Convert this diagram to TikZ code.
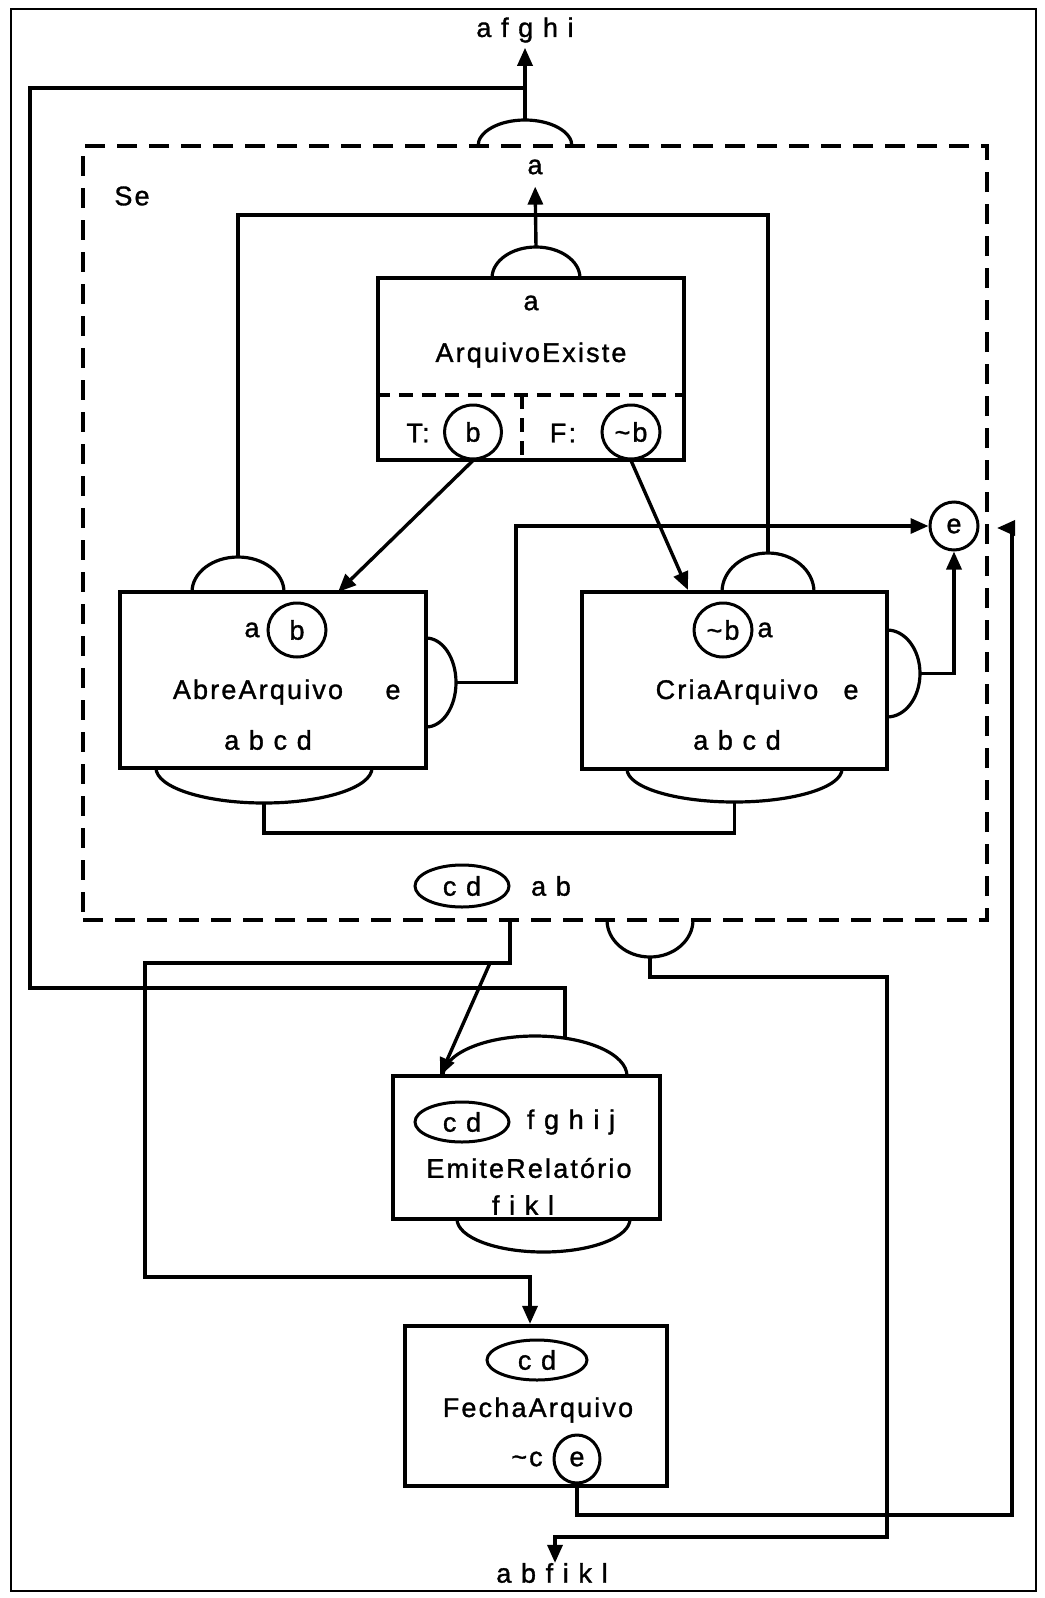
\documentclass[tikz,border=0pt]{standalone}
\usepackage{fontspec}
\setmainfont{Liberation Sans}[LetterSpace=8,FakeBold=1.2]
\usetikzlibrary{arrows.meta,shapes.geometric}
\begin{document}
\begin{tikzpicture}[x=1pt,y=-1pt,
  font=\fontsize{27pt}{32pt}\selectfont,
  lbl/.style={inner sep=0pt},
  proc/.style={draw,line width=4.2pt,rectangle,inner sep=0pt},
  ring/.style={draw,line width=3pt,ellipse,inner sep=0pt},
  wire/.style={line width=3.4pt},
  flow/.style={wire,-{Triangle[length=18pt,width=15pt]}},
  lobe/.style={line width=3.2pt},
  group/.style={draw,line width=4pt,dash pattern=on 20pt off 12pt},
  divider/.style={line width=3.4pt,dash pattern=on 14pt off 9pt},
]
\useasboundingbox (0,0) rectangle (1044,1598);

% page frame
\draw[line width=2.8pt] (11,9) rectangle (1036,1591);

% the "Se" group and the process boxes
\node[group,minimum width=904pt,minimum height=774pt] (se) at (535,533) {};
\node[proc,minimum width=306pt,minimum height=182pt] (existe) at (531,369) {};
\node[proc,minimum width=306pt,minimum height=176pt] (abre) at (273,680) {};
\node[proc,minimum width=305pt,minimum height=177pt] (cria) at (734.5,680.5) {};
\node[proc,minimum width=267pt,minimum height=143pt] (emite) at (526.5,1147.5) {};
\node[proc,minimum width=262pt,minimum height=160pt] (fecha) at (536,1406) {};

% true / false split inside ArquivoExiste
\draw[divider] (existe.west |- 0,395) -- (existe.east |- 0,395);
\draw[divider] (522,395) -- (522,460);

% half-ellipse ports
\draw[lobe] (478,146) arc[start angle=180,end angle=0,x radius=47pt,y radius=26pt];
\draw[lobe] (492,278) arc[start angle=180,end angle=0,x radius=44pt,y radius=31pt];
\draw[lobe] (192,592) arc[start angle=180,end angle=0,x radius=46pt,y radius=35pt];
\draw[lobe] (426,638) arc[start angle=90,end angle=-90,x radius=30pt,y radius=44.5pt];
\draw[lobe] (156,768) arc[start angle=180,end angle=360,x radius=108pt,y radius=35pt];
\draw[lobe] (722,592) arc[start angle=180,end angle=0,x radius=46pt,y radius=39pt];
\draw[lobe] (887,630) arc[start angle=90,end angle=-90,x radius=33pt,y radius=43.5pt];
\draw[lobe] (627,769) arc[start angle=180,end angle=360,x radius=107.5pt,y radius=33pt];
\draw[lobe] (443,1076) arc[start angle=180,end angle=0,x radius=92pt,y radius=40pt];
\draw[lobe] (457,1219) arc[start angle=180,end angle=360,x radius=86.5pt,y radius=33pt];
\draw[lobe] (607,920) arc[start angle=180,end angle=360,x radius=43pt,y radius=37pt];

% port tips
\coordinate (sepeak) at (525,120);
\coordinate (existepeak) at (536,247);
\coordinate (abretop) at (238,557);
\coordinate (abreside) at (456,682.5);
\coordinate (abrebot) at (264,803);
\coordinate (criatop) at (768,553);
\coordinate (criaside) at (920,673.5);
\coordinate (criabot) at (734.5,802);
\coordinate (emitejoin) at (565,1038);
\coordinate (sebot) at (650,957);

% labels
\node[lbl] (outtop) at (525,30) {a f g h i};
\node[lbl] (lbla) at (535,167) {a};
\node[lbl] (selbl) at (132,196) {Se};
\node[lbl] (existein) at (531,303) {a};
\node[lbl] (existename) at (531,355) {ArquivoExiste};
\node[lbl] (tlbl) at (418,433) {T:};
\node[ring,minimum width=57pt,minimum height=54pt] (tb) at (473,432) {b};
\node[lbl] (flbl) at (563,433) {F:};
\node[ring,minimum width=58pt,minimum height=54pt] (fb) at (631,432) {\textasciitilde b};

\node[lbl] (abrea) at (252,630) {a};
\node[ring,minimum width=58pt,minimum height=54pt] (abreb) at (297,630) {b};
\node[lbl] (abrename) at (258,692) {AbreArquivo};
\node[lbl] (abree) at (393,692) {e};
\node[lbl] (abreall) at (268,740) {a b c d};

\node[ring,minimum width=58pt,minimum height=54pt] (criab) at (723,630) {\textasciitilde b};
\node[lbl] (criaa) at (765,630) {a};
\node[lbl] (crianame) at (737,692) {CriaArquivo};
\node[lbl] (criae) at (851,692) {e};
\node[lbl] (criaall) at (737,740) {a b c d};

\node[ring,minimum width=48pt,minimum height=48pt] (eout) at (954,526) {e};
\node[ring,minimum width=94pt,minimum height=42pt] (secd) at (462,886) {c d};
\node[lbl] (seab) at (551,886) {a b};

\node[ring,minimum width=94pt,minimum height=40pt] (emitecd) at (462,1122) {c d};
\node[lbl] (emiteout) at (571,1122) {f g h i j};
\node[lbl] (emitename) at (529,1168) {EmiteRelatório};
\node[lbl] (emitealt) at (523,1205) {f i k l};

\node[ring,minimum width=100pt,minimum height=40pt] (fechacd) at (537,1360) {c d};
\node[lbl] (fechaname) at (538,1410) {FechaArquivo};
\node[lbl] (fechac) at (527,1459) {\textasciitilde c};
\node[ring,minimum width=46pt,minimum height=48pt] (fe) at (577,1459) {e};
\node[lbl] (outbot) at (552,1573) {a b f i k l};

% routing corners
\coordinate (loopA) at (30,988);
\coordinate (loopB) at (30,88);
\coordinate (loopC) at (238,215);
\coordinate (loopD) at (768,215);
\coordinate (stepE) at (516,526);
\coordinate (loopE) at (500,833);
\coordinate (seout) at (510,920);
\coordinate (loopF) at (145,963);
\coordinate (loopG) at (530,1277);
\coordinate (split) at (490,963);
\coordinate (emitein) at (440,1076);
\coordinate (abrein) at (338,592);
\coordinate (criain) at (688,590);
\coordinate (loopH) at (887,977);
\coordinate (loopI) at (555,1537);
\coordinate (loopJ) at (1012,1515);
\coordinate (loopK) at (1012,528);
\coordinate (sein) at (997,528);

% connectors
\draw[flow,shorten >=5pt] (sepeak) -- (outtop.south);
\draw[wire] (emitejoin) |- (loopA) -- (loopB) -- (loopB -| sepeak);
\draw[flow,shorten >=12pt] (existepeak) -- (lbla.south);
\draw[wire] (abretop) -- (loopC) -- (loopD) -- (criatop);
\draw[flow] (tb.south) -- (abrein);
\draw[flow] (fb.south) -- (criain);
\draw[flow] (abreside) -| (stepE) -- (eout.west);
\draw[flow] (criaside) -| (eout.south);
\draw[wire] (abrebot) |- (loopE) -| (criabot);
\draw[flow] (seout) |- (loopF) |- (loopG) -- (loopG |- fecha.north);
\draw[flow] (split) -- (emitein);
\draw[flow] (sebot) |- (loopH) |- (loopI) -- (loopI |- outbot.north);
\draw[flow] (fe.south) |- (loopJ) -- (loopK) -- (sein);
\end{tikzpicture}
\end{document}
